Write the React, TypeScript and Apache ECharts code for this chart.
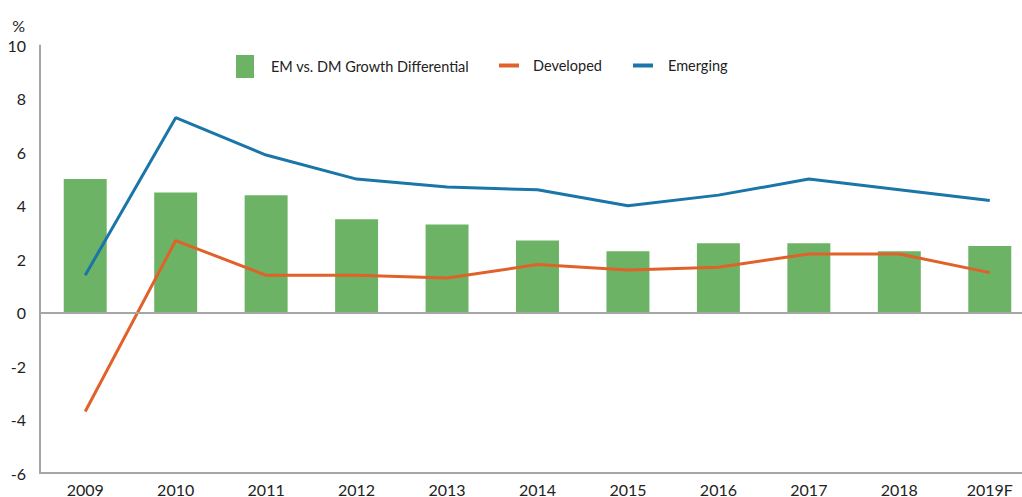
import React, { useEffect, useRef } from "react";
import * as echarts from "echarts";

const categories = ["2009", "2010", "2011", "2012", "2013", "2014", "2015", "2016", "2017", "2018", "2019F"];
const differential = [5.0, 4.5, 4.4, 3.5, 3.3, 2.7, 2.3, 2.6, 2.6, 2.3, 2.5];
const developed = [-3.7, 2.7, 1.4, 1.4, 1.3, 1.8, 1.6, 1.7, 2.2, 2.2, 1.5];
const emerging = [1.4, 7.3, 5.9, 5.0, 4.7, 4.6, 4.0, 4.4, 5.0, 4.6, 4.2];

const GREEN = "#6cb366";
const ORANGE = "#e0622a";
const BLUE = "#1a75a8";
const GREY = "#a6a6a6";
const FONT = "Lato";

export default function App() {
  const ref = useRef<HTMLDivElement>(null);
  useEffect(() => {
    if (!ref.current) return;
    const chart = echarts.init(ref.current, undefined, { renderer: "svg" });
    const legendText = { fontFamily: FONT, fontSize: 14.5, color: "#222" };
    chart.setOption({
      animation: false,
      backgroundColor: "#fff",
      textStyle: { fontFamily: FONT },
      grid: {
        left: 40, top: 45.5, bottom: 24, right: -13,
        containLabel: false, outerBoundsMode: "none",
      },
      legend: [
        {
          data: [{ name: "EM vs. DM Growth Differential", icon: "rect" }],
          left: 236, top: 55, padding: 0, itemWidth: 18, itemHeight: 23,
          textStyle: { ...legendText, padding: [0, 0, 18, 12] },
          selectedMode: false,
        },
        {
          data: [{ name: "Developed", icon: "rect" }],
          left: 499, top: 58, padding: 0, itemWidth: 20, itemHeight: 4,
          textStyle: { ...legendText, padding: [0, 0, 10, 9] },
          selectedMode: false,
        },
        {
          data: [{ name: "Emerging", icon: "rect" }],
          left: 633, top: 58, padding: 0, itemWidth: 20, itemHeight: 4,
          textStyle: { ...legendText, padding: [0, 0, 10, 10] },
          selectedMode: false,
        },
      ],
      xAxis: {
        type: "category",
        data: categories,
        axisLine: { onZero: false, lineStyle: { color: GREY, width: 2 } },
        axisTick: { show: false },
        axisLabel: { fontFamily: FONT, fontSize: 16, lineHeight: 16, color: "#222", margin: 8 },
      },
      yAxis: {
        type: "value",
        min: -6,
        max: 10,
        interval: 2,
        name: "%",
        nameLocation: "end",
        nameGap: 12,
        nameTextStyle: { fontFamily: FONT, fontSize: 16, color: "#222", align: "right", padding: [0, 15, 0, 0] },
        axisLine: { show: true, lineStyle: { color: GREY, width: 2 } },
        axisTick: { show: false },
        splitLine: { show: false },
        axisLabel: { fontFamily: FONT, fontSize: 16, color: "#222", margin: 14 },
      },
      series: [
        {
          name: "EM vs. DM Growth Differential",
          type: "bar",
          data: differential,
          barWidth: "47.5%",
          itemStyle: { color: GREEN },
          markLine: {
            silent: true,
            symbol: "none",
            label: { show: false },
            lineStyle: { color: GREY, width: 2, type: "solid" },
            data: [{ yAxis: 0 }],
          },
        },
        {
          name: "Developed",
          type: "line",
          data: developed,
          symbol: "none",
          lineStyle: { color: ORANGE, width: 3 },
          itemStyle: { color: ORANGE },
        },
        {
          name: "Emerging",
          type: "line",
          data: emerging,
          symbol: "none",
          lineStyle: { color: BLUE, width: 3 },
          itemStyle: { color: BLUE },
        },
      ],
    });
    return () => chart.dispose();
  }, []);
  return <div ref={ref} style={{ position: "fixed", left: 0, top: 0, width: 1022, height: 497 }} />;
}
